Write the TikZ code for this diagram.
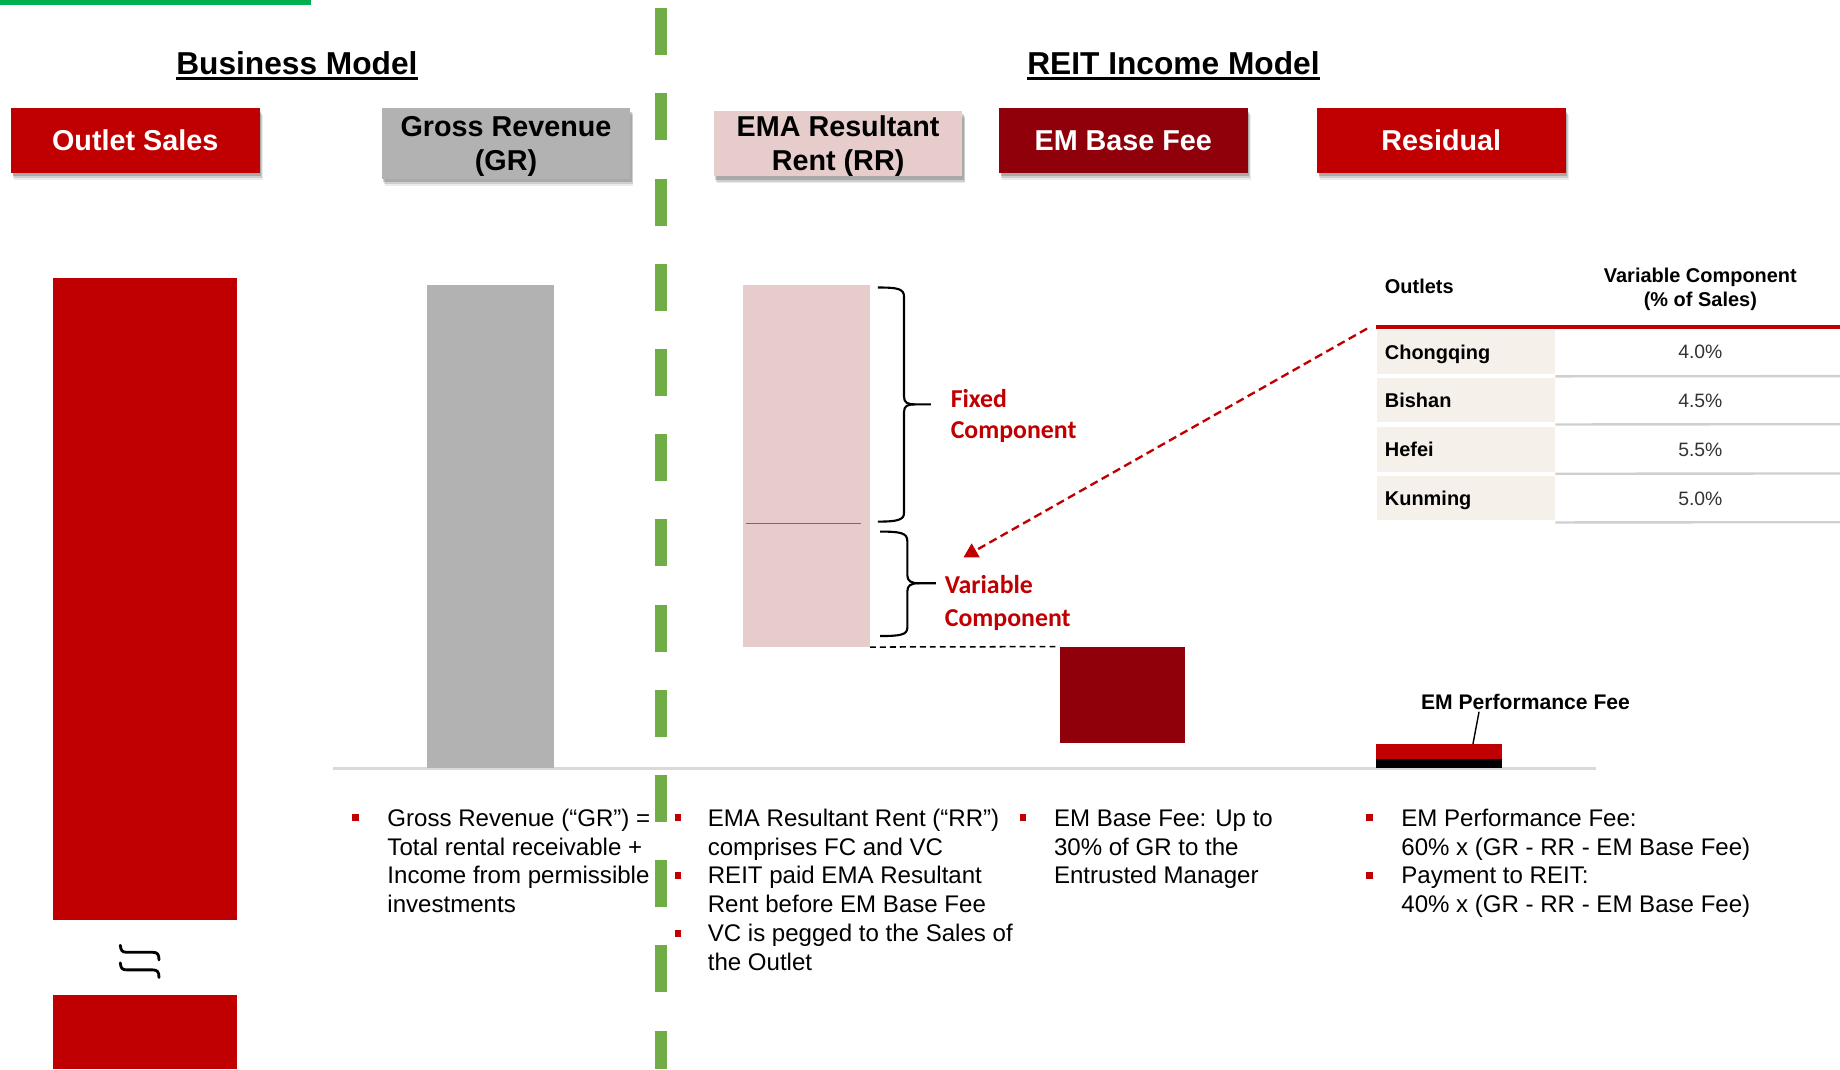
\documentclass[tikz,border=0pt]{standalone}
\usepackage{fontspec}
\setmainfont{Liberation Sans}
\newfontfamily\carl{Carlito}
\usetikzlibrary{shapes.geometric,shadows,arrows.meta}
\definecolor{bred}{HTML}{C00000}
\definecolor{dred}{HTML}{8F000B}
\definecolor{gry}{HTML}{B2B2B2}
\definecolor{pnk}{HTML}{E7CCCC}
\definecolor{topgreen}{HTML}{00B050}
\definecolor{dgreen}{HTML}{70AD47}
\definecolor{beige}{HTML}{F6F0EA}
\definecolor{tabgray}{HTML}{CFCFCF}
\definecolor{axisgray}{HTML}{D9D9D9}
\definecolor{bline}{HTML}{4472C4}
\definecolor{valtxt}{HTML}{333333}
\newcommand\fsz[2]{\fontsize{#1}{#2}\selectfont}
\newcommand\bul[1]{\makebox[#1][l]{\textcolor{bred}{\rule[4pt]{5.5pt}{6pt}}}}
\newcommand\ind[1]{\hspace*{#1}}
\begin{document}
\begin{tikzpicture}[x=1pt,y=-1pt,
  hdr/.style={anchor=north west, inner sep=0, minimum width=212pt, minimum height=55pt,
    font=\fsz{24.5}{29}\bfseries, align=center,
    drop shadow={shadow xshift=2.5pt, shadow yshift=-6pt, opacity=.08, fill=black},
    drop shadow={shadow xshift=2pt, shadow yshift=-4.5pt, opacity=.12, fill=black},
    drop shadow={shadow xshift=1.5pt, shadow yshift=-3pt, opacity=.18, fill=black}},
  bar/.style={anchor=north west, inner sep=0, draw=none},
  title/.style={anchor=base, inner sep=0, font=\fsz{27}{32}\bfseries},
  comp/.style={anchor=base west, inner sep=0, text=bred},
  brcline/.style={line width=1.8pt, line join=round},
  cellL/.style={anchor=west, inner xsep=7pt, inner ysep=0, minimum width=152pt,
    minimum height=38pt, fill=beige, text width=138pt, align=left,
    text height=12.2pt, text depth=0pt, font=\fsz{17}{20}\bfseries},
  valn/.style={inner sep=0, text height=11.8pt, text depth=0pt, text=valtxt,
    font=\fsz{16.5}{20}},
  tabline/.style={tabgray, line width=2pt},
  bullets/.style={anchor=base west, inner sep=0}
]
\useasboundingbox (0,0) rectangle (1568,911);

% top green line
\fill[topgreen] (0,0) rectangle (265,4);

% titles
\node[title] (bm) at (253,63.5) {Business Model};
\draw[line width=2.2pt] ([yshift=-3.5pt]bm.base west) -- ([yshift=-3.5pt]bm.base east);
\node[title] (rim) at (1000,63.5) {REIT Income Model};
\draw[line width=2.2pt] ([yshift=-3.5pt]rim.base west) -- ([yshift=-3.5pt]rim.base east);

% header boxes
\node[hdr, fill=bred, text=white] (hos) at (9,92) {Outlet Sales};
\node[hdr, fill=gry, minimum height=60pt] (hgr) at (325,92) {\rule{0pt}{23pt}Gross Revenue\\(GR)};
\node[hdr, fill=pnk, minimum height=56pt] (hrr) at (608,94) {\rule{0pt}{21.5pt}EMA Resultant\\Rent (RR)};
\node[hdr, fill=dred, text=white] (hbf) at (851,92) {EM Base Fee};
\node[hdr, fill=bred, text=white] (hres) at (1122,92) {Residual};

% axis line
\draw[axisgray, line width=2pt] (284,655) -- (1360,655);

% bars
\node[bar, fill=bred, minimum width=157pt, minimum height=547pt] (os1) at (45,237) {};
\node[bar, fill=bred, minimum width=157pt, minimum height=63pt] (os2) at (45,848) {};
\node[bar, fill=gry, minimum width=108pt, minimum height=411pt] (gr) at (364,243) {};
\node[bar, fill=pnk, minimum width=108pt, minimum height=308pt] (rr) at (633,243) {};
\draw[bline, line width=1pt] (636,446) -- (734,446);
\node[bar, fill=dred, minimum width=107pt, minimum height=82pt] (bf) at (903,551) {};
\node[bar, fill=bred, minimum width=108pt, minimum height=13pt] (pf) at (1172,634) {};
\node[bar, fill=black, minimum width=108pt, minimum height=7pt] (pfb) at (1172,647) {};

% break symbol
\draw[line width=2.4pt, line cap=round] (102.5,805.5) .. controls (103,810) and (104,811.5) .. (108,811.5) -- (130,811.5) .. controls (134,811.5) and (135.5,813) .. (135.5,818);
\draw[line width=2.4pt, line cap=round] (102.5,820.5) .. controls (103,825) and (104,826.5) .. (108,826.5) -- (130,826.5) .. controls (134,826.5) and (135.5,828) .. (135.5,833);

% braces
\draw[brcline] (748,245) .. controls (765,245) and (770.4,246) .. (770.4,253) -- (770.4,338)
  .. controls (770.4,343) and (773,344.6) .. (780,344.6) -- (793.3,344.6);
\draw[brcline] (780,344.6) .. controls (773,344.6) and (770.4,346) .. (770.4,351) -- (770.4,437)
  .. controls (770.4,443) and (765,444.5) .. (748,444.5);
\draw[brcline] (750,453) .. controls (767,453) and (773.2,454) .. (773.2,461) -- (773.2,490)
  .. controls (773.2,495) and (776,497) .. (783,497) -- (797.6,497);
\draw[brcline] (783,497) .. controls (776,497) and (773.2,499) .. (773.2,504) -- (773.2,535)
  .. controls (773.2,541) and (767,542) .. (750,542);
\node[comp] (fc) at (810,347) {\parbox[t]{150pt}{\carl\bfseries\fsz{22}{27}Fixed\\Component}};
\node[comp] (vc) at (805,506) {\parbox[t]{150pt}{\carl\bfseries\fsz{22}{28}Variable\\Component}};

% dashed link RR -> base fee
\draw[line width=1.3pt, dash pattern=on 5pt off 3.5pt] (rr.south east) -- (bf.north west);

% perf fee label
\node[anchor=base, inner sep=0, font=\fsz{18}{21}\bfseries] (epf) at (1300,605) {EM Performance Fee};
\draw[line width=1.2pt] ([xshift=-39.6pt,yshift=-1.5pt]epf.base) -- ([xshift=29pt]pf.north);

% table
\node[anchor=west, inner sep=0, font=\fsz{17}{20}\bfseries, text height=12.2pt, text depth=0pt] (th1) at (1180,244) {Outlets};
\node[inner sep=0, align=center, font=\fsz{17}{21}\bfseries] (th2) at (1449,246.5) {Variable Component\\(\% of Sales)};
\draw[bred, line width=3.4pt] (1173,278.5) -- (1568,278.5);
\node[cellL] (c1) at (1173,300) {Chongqing};
\node[cellL] (c2) at (1173,341) {Bishan};
\node[cellL] (c3) at (1173,383) {Hefei};
\node[cellL] (c4) at (1173,424.5) {Kunming};
\node[valn] (v1) at (1449,300) {4.0\%};
\node[valn] (v2) at (1449,341) {4.5\%};
\node[valn] (v3) at (1449,383) {5.5\%};
\node[valn] (v4) at (1449,424.5) {5.0\%};
\draw[tabline] ([yshift=-1.5pt]c1.south east) -- (1568,320.5);
\draw[tabline] ([yshift=-1.5pt]c2.south east) -- (1568,361.5);
\draw[tabline] ([yshift=-1.5pt]c3.south east) -- (1568,403.5);
\draw[tabline] ([yshift=-1.5pt]c4.south east) -- (1568,445);

% red dashed arrow
\coordinate (arrs) at (1165,280);
\node[regular polygon, regular polygon sides=3, fill=bred, inner sep=0, minimum size=16pt] (tri) at (828,471) {};
\draw[bred, line width=2pt, dash pattern=on 7pt off 4pt] (arrs) -- (tri);

% bullet texts
\node[bullets] (l1) at (300,704) {\parbox[t]{260pt}{\raggedright\fsz{20.5}{24.6}\bul{30pt}Gross Revenue (“GR”) =\\\ind{30pt}Total rental receivable +\\\ind{30pt}Income from permissible\\\ind{30pt}investments}};
\node[bullets] (l2) at (575,704) {\parbox[t]{300pt}{\raggedright\fsz{20.5}{24.6}\bul{28pt}EMA Resultant Rent (“RR”)\\\ind{28pt}comprises FC and VC\\\bul{28pt}REIT paid EMA Resultant\\\ind{28pt}Rent before EM Base Fee\\\bul{28pt}VC is pegged to the Sales of\\\ind{28pt}the Outlet}};
\node[bullets] (l3) at (869,704) {\parbox[t]{260pt}{\raggedright\fsz{20.5}{24.6}\bul{29pt}EM Base Fee: Up to\\\ind{29pt}30\% of GR to the\\\ind{29pt}Entrusted Manager}};
\node[bullets] (l4) at (1164,704) {\parbox[t]{380pt}{\raggedright\fsz{20.5}{24.6}\bul{30pt}EM Performance Fee:\\\ind{30pt}60\% x (GR - RR - EM Base Fee)\\\bul{30pt}Payment to REIT:\\\ind{30pt}40\% x (GR - RR - EM Base Fee)}};

% green dashed divider
\draw[dgreen, line width=10pt, dash pattern=on 40pt off 32.6pt] (563,7) -- (563,911);
\end{tikzpicture}
\end{document}
